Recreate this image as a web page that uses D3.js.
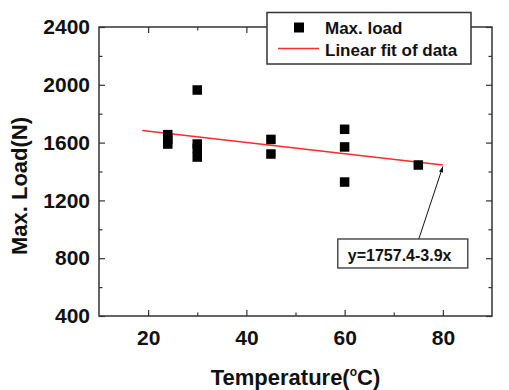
<!DOCTYPE html>
<html lang="en">
<head>
<meta charset="utf-8">
<script src="https://cdn.jsdelivr.net/npm/d3@7"></script>
<style>
    body { margin: 0; background: #fff; }
    text { font-family: "Liberation Sans", Arial, sans-serif; font-weight: bold; fill: #111; }
</style>
</head>
<body>
<div id="chart"></div>
<script type="text/javascript">

    // measured points
    var temps = [24, 24, 24, 30, 30, 30, 30, 45, 45, 60, 60, 60, 75];
    var loads = [1655, 1620, 1590, 1964, 1590, 1560, 1500, 1622, 1521, 1692, 1570, 1327, 1445];

    // linear fit y = 1757.4 - 3.9x, end points
    var fitX = [18.8, 80];
    var fitY = [1684, 1445];

    var xTicks = [20, 40, 60, 80];
    var xMinor = [30, 50, 70];
    var yTicks = [400, 800, 1200, 1600, 2000, 2400];
    var yMinor = [600, 1000, 1400, 1800, 2200];

    var svgWidth = 509;
    var svgHeight = 390;
    var margin = {top: 27, right: 17, bottom: 74, left: 99};
    var chartWidth = svgWidth - margin.left - margin.right;
    var chartHeight = svgHeight - margin.top - margin.bottom;

    var svg = d3.select("#chart").append("svg")
            .attr("width", svgWidth)
            .attr("height", svgHeight);

    var g = svg.append("g")
            .attr("transform", "translate(" + margin.left + "," + margin.top + ")");

    var x = d3.scaleLinear().domain([10, 90]).range([0, chartWidth]);
    var y = d3.scaleLinear().domain([400, 2400]).range([chartHeight, 0]);

    var frameColor = "#333";

    /* ticks on all four sides, pointing inward */
    function styleAxis(sel) {
        sel.select(".domain").remove();
        sel.selectAll("line").attr("stroke", frameColor).attr("stroke-width", 1.2);
    }

    g.append("g")
            .attr("transform", "translate(0," + chartHeight + ")")
            .call(d3.axisBottom(x).tickValues(xTicks).tickSize(-6).tickPadding(14).tickFormat(d3.format("d")))
            .call(styleAxis)
            .selectAll("text").style("font-size", "21px").attr("fill", "#111");
    g.append("g")
            .attr("transform", "translate(0," + chartHeight + ")")
            .call(d3.axisBottom(x).tickValues(xMinor).tickSize(-3.5).tickFormat(""))
            .call(styleAxis);
    g.append("g")
            .call(d3.axisTop(x).tickValues(xTicks).tickSize(-6).tickFormat(""))
            .call(styleAxis);
    g.append("g")
            .call(d3.axisTop(x).tickValues(xMinor).tickSize(-3.5).tickFormat(""))
            .call(styleAxis);

    g.append("g")
            .call(d3.axisLeft(y).tickValues(yTicks).tickSize(-6).tickPadding(9).tickFormat(d3.format("d")))
            .call(styleAxis)
            .selectAll("text").style("font-size", "21px").attr("fill", "#111");
    g.append("g")
            .call(d3.axisLeft(y).tickValues(yMinor).tickSize(-3.5).tickFormat(""))
            .call(styleAxis);
    g.append("g")
            .attr("transform", "translate(" + chartWidth + ",0)")
            .call(d3.axisRight(y).tickValues(yTicks).tickSize(-6).tickFormat(""))
            .call(styleAxis);
    g.append("g")
            .attr("transform", "translate(" + chartWidth + ",0)")
            .call(d3.axisRight(y).tickValues(yMinor).tickSize(-3.5).tickFormat(""))
            .call(styleAxis);

    /* frame */
    g.append("rect")
            .attr("width", chartWidth)
            .attr("height", chartHeight)
            .attr("fill", "none")
            .attr("stroke", frameColor)
            .attr("stroke-width", 1.5);

    /* fit line */
    var line = d3.line()
            .x(function(d) { return x(d[0]); })
            .y(function(d) { return y(d[1]); });

    g.append("path")
            .datum(d3.zip(fitX, fitY))
            .attr("d", line)
            .attr("fill", "none")
            .attr("stroke", "#ff2a2a")
            .attr("stroke-width", 1.6);

    /* points */
    var sq = 9.5;
    g.selectAll("rect.pt")
            .data(d3.zip(temps, loads))
            .enter()
            .append("rect")
            .attr("class", "pt")
            .attr("x", function(d) { return x(d[0]) - sq / 2; })
            .attr("y", function(d) { return y(d[1]) - sq / 2; })
            .attr("width", sq)
            .attr("height", sq)
            .attr("fill", "#000");

    /* annotation with arrow */
    var defs = svg.append("defs");
    defs.append("marker")
            .attr("id", "arrow")
            .attr("viewBox", "0 0 10 10")
            .attr("refX", 10).attr("refY", 5)
            .attr("markerWidth", 6).attr("markerHeight", 6)
            .attr("orient", "auto")
            .append("path")
            .attr("d", "M0,1.5L10,5L0,8.5z")
            .attr("fill", "#111");

    // arrow from the label box up to the end of the fit line
    var ann = {x0: 75.1, y0: 933, x1: 80, y1: 1435};
    g.append("line")
            .attr("x1", x(ann.x0)).attr("y1", y(ann.y0))
            .attr("x2", x(ann.x1)).attr("y2", y(ann.y1))
            .attr("stroke", "#111")
            .attr("stroke-width", 1)
            .attr("marker-end", "url(#arrow)");

    var annBox = g.append("g").attr("transform", "translate(" + (x(ann.x0) - 81) + "," + y(ann.y0) + ")");
    annBox.append("rect")
            .attr("width", 130)
            .attr("height", 29)
            .attr("fill", "#fff")
            .attr("stroke", frameColor)
            .attr("stroke-width", 1.3);
    annBox.append("text")
            .attr("x", 10)
            .attr("y", 22)
            .style("font-size", "16px")
            .text("y=1757.4-3.9x");

    /* legend */
    var legend = svg.append("g").attr("transform", "translate(267,12.5)");
    legend.append("rect")
            .attr("width", 204)
            .attr("height", 51.5)
            .attr("fill", "#fff")
            .attr("stroke", frameColor)
            .attr("stroke-width", 1.5);
    legend.append("rect")
            .attr("x", 32 - 5).attr("y", 15 - 5)
            .attr("width", 10).attr("height", 10)
            .attr("fill", "#000");
    legend.append("line")
            .attr("x1", 11).attr("x2", 52)
            .attr("y1", 36).attr("y2", 36)
            .attr("stroke", "#ff2a2a")
            .attr("stroke-width", 1.6);
    legend.append("text").attr("x", 58).attr("y", 21).style("font-size", "17px").text("Max. load");
    legend.append("text").attr("x", 58).attr("y", 43).style("font-size", "17px").text("Linear fit of data");

    /* axis titles */
    var xTitle = svg.append("text")
            .attr("x", margin.left + chartWidth / 2)
            .attr("y", 385)
            .attr("text-anchor", "middle")
            .style("font-size", "22px");
    xTitle.append("tspan").text("Temperature(");
    xTitle.append("tspan").attr("dy", -9).style("font-size", "12px").text("o");
    xTitle.append("tspan").attr("dy", 9).text("C)");

    svg.append("text")
            .attr("transform", "translate(27,186) rotate(-90)")
            .attr("text-anchor", "middle")
            .style("font-size", "22px")
            .text("Max. Load(N)");

</script>
</body>
</html>
